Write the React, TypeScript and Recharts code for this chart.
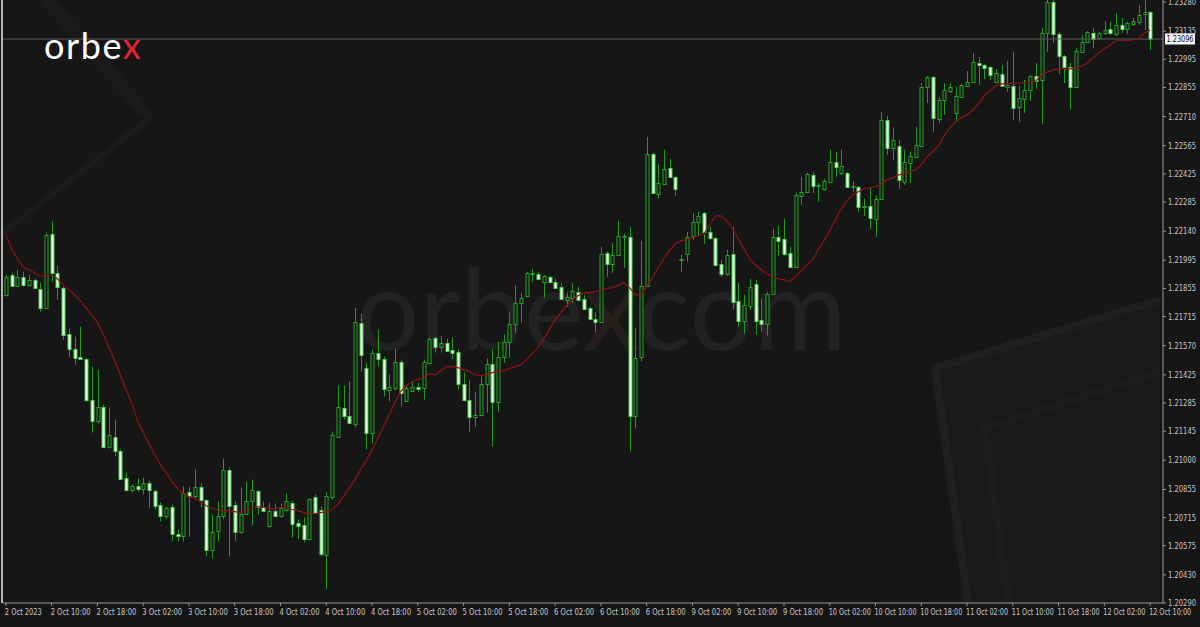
import { Bar, ComposedChart, Line, ReferenceLine, XAxis, YAxis } from "recharts";

// EURUSD-style H1 candles, 2 Oct 02:00 -> 12 Oct 10:00 (201 bars)
const opens = [
  1.21824, 1.21923, 1.21869, 1.21913, 1.21874, 1.21898, 1.21854, 1.21759, 1.22127, 1.21933,
  1.21859, 1.2163, 1.21555, 1.21516, 1.21506, 1.21302, 1.21193, 1.21267, 1.21068, 1.21118,
  1.21044, 1.20914, 1.2085, 1.2087, 1.20855, 1.20889, 1.20845, 1.2078, 1.20721, 1.2077,
  1.20631, 1.20621, 1.2084, 1.2082, 1.20865, 1.208, 1.20552, 1.20646, 1.20721, 1.20954,
  1.2078, 1.20641, 1.20735, 1.20795, 1.20845, 1.2077, 1.20671, 1.2075, 1.20721, 1.20755,
  1.2079, 1.20686, 1.20676, 1.20606, 1.20815, 1.20755, 1.20527, 1.20815, 1.21118, 1.21262,
  1.21222, 1.21183, 1.21685, 1.21461, 1.21138, 1.21536, 1.21506, 1.21352, 1.21362, 1.21491,
  1.21297, 1.21347, 1.21367, 1.21362, 1.21486, 1.2161, 1.21565, 1.21585, 1.21551, 1.21541,
  1.21382, 1.21302, 1.21213, 1.21227, 1.21382, 1.21481, 1.21292, 1.21516, 1.2159, 1.2168,
  1.21784, 1.21819, 1.21928, 1.21928, 1.21888, 1.21913, 1.21888, 1.21864, 1.21799, 1.21809,
  1.21839, 1.21804, 1.21759, 1.21705, 1.2169, 1.22033, 1.21978, 1.22023, 1.22112, 1.22112,
  1.21218, 1.21516, 1.21869, 1.22525, 1.22326, 1.22376, 1.22455, 1.2241, 1.21998, 1.22028,
  1.22117, 1.22187, 1.22231, 1.22137, 1.22107, 1.21978, 1.21928, 1.22028, 1.21794, 1.21695,
  1.21769, 1.21879, 1.217, 1.2168, 1.21829, 1.22112, 1.22102, 1.22033, 1.21963, 1.22316,
  1.22336, 1.2242, 1.22366, 1.22351, 1.22385, 1.22485, 1.2243, 1.2243, 1.22361, 1.22361,
  1.22261, 1.22266, 1.22202, 1.22301, 1.22694, 1.22554, 1.22564, 1.22385, 1.2248, 1.2251,
  1.22564, 1.22858, 1.22907, 1.22699, 1.22793, 1.22838, 1.22728, 1.22808, 1.22863, 1.22882,
  1.22977, 1.22967, 1.22957, 1.22882, 1.22922, 1.22858, 1.22863, 1.22758, 1.22798, 1.22843,
  1.22912, 1.22892, 1.23126, 1.2328, 1.23121, 1.23012, 1.22957, 1.22858, 1.23032, 1.23081,
  1.23126, 1.23101, 1.23126, 1.23146, 1.23121, 1.23166, 1.23146, 1.23171, 1.23181, 1.2322,
  1.2323,
];

const highs = [
  1.21923, 1.21933, 1.21948, 1.21938, 1.21923, 1.21903, 1.21883, 1.22132, 1.22187, 1.21968,
  1.21864, 1.21655, 1.21615, 1.21665, 1.21511, 1.21466, 1.21451, 1.21277, 1.21262, 1.21203,
  1.21054, 1.20939, 1.2088, 1.20909, 1.20914, 1.20899, 1.20855, 1.2079, 1.2077, 1.2078,
  1.20656, 1.2087, 1.2087, 1.20954, 1.20885, 1.20805, 1.2073, 1.20795, 1.21009, 1.20964,
  1.20795, 1.20865, 1.20894, 1.20904, 1.20855, 1.20795, 1.2079, 1.20785, 1.20785, 1.20835,
  1.208, 1.20706, 1.20716, 1.2081, 1.2083, 1.2077, 1.2084, 1.21143, 1.21372, 1.21372,
  1.21391, 1.21759, 1.21729, 1.21486, 1.21551, 1.2165, 1.21516, 1.21426, 1.21555, 1.21501,
  1.21372, 1.21391, 1.21386, 1.21501, 1.2161, 1.21615, 1.2162, 1.21605, 1.2161, 1.21551,
  1.21436, 1.21401, 1.21342, 1.21416, 1.21506, 1.21551, 1.2159, 1.21625, 1.21734, 1.21869,
  1.21834, 1.21938, 1.21953, 1.21938, 1.21923, 1.21918, 1.21903, 1.21883, 1.21834, 1.21883,
  1.21864, 1.21824, 1.21764, 1.21739, 1.22062, 1.22038, 1.22082, 1.22192, 1.22127, 1.22162,
  1.2166, 1.22092, 1.22609, 1.2253, 1.22475, 1.22545, 1.225, 1.22415, 1.22023, 1.22137,
  1.22231, 1.22236, 1.22236, 1.22162, 1.22112, 1.21998, 1.22048, 1.22162, 1.21883, 1.21824,
  1.21903, 1.21898, 1.21804, 1.21839, 1.22152, 1.22167, 1.22202, 1.22062, 1.22331, 1.2241,
  1.2243, 1.22435, 1.2238, 1.224, 1.22545, 1.22535, 1.22545, 1.22435, 1.2239, 1.22366,
  1.22301, 1.22356, 1.22316, 1.22733, 1.22713, 1.22654, 1.22594, 1.22545, 1.22535, 1.22659,
  1.22877, 1.22912, 1.22912, 1.22808, 1.22877, 1.22877, 1.22858, 1.22873, 1.22937, 1.23027,
  1.23007, 1.22972, 1.22962, 1.22947, 1.22967, 1.22987, 1.23032, 1.22863, 1.22892, 1.22917,
  1.22977, 1.23151, 1.233, 1.233, 1.23131, 1.23017, 1.22977, 1.23051, 1.23116, 1.23136,
  1.23151, 1.23131, 1.23186, 1.23181, 1.23225, 1.23201, 1.23181, 1.23201, 1.23265, 1.23295,
  1.23235,
];

const lows = [
  1.21814, 1.21864, 1.21864, 1.21864, 1.21864, 1.21854, 1.21739, 1.21754, 1.21888, 1.21799,
  1.216, 1.21511, 1.21476, 1.21501, 1.21292, 1.21138, 1.21183, 1.21063, 1.21058, 1.21019,
  1.20904, 1.20845, 1.2084, 1.20845, 1.2083, 1.20765, 1.20755, 1.20696, 1.20706, 1.20596,
  1.20596, 1.20596, 1.20621, 1.2081, 1.20765, 1.20522, 1.20512, 1.20596, 1.20706, 1.20522,
  1.20596, 1.20636, 1.2073, 1.20676, 1.2073, 1.20745, 1.20666, 1.20716, 1.20716, 1.2074,
  1.20616, 1.20606, 1.20591, 1.20601, 1.2073, 1.20522, 1.20358, 1.20805, 1.21113, 1.21203,
  1.21183, 1.21163, 1.21441, 1.21054, 1.21083, 1.21466, 1.21317, 1.21292, 1.21347, 1.21267,
  1.21292, 1.21342, 1.21342, 1.21302, 1.21481, 1.21536, 1.21536, 1.21541, 1.21501, 1.21352,
  1.21292, 1.21143, 1.21168, 1.21218, 1.21237, 1.21068, 1.21242, 1.21486, 1.21511, 1.21635,
  1.21685, 1.21814, 1.21888, 1.21898, 1.21809, 1.21883, 1.21854, 1.21799, 1.21764, 1.21784,
  1.21794, 1.21749, 1.217, 1.21635, 1.21685, 1.21913, 1.21933, 1.22018, 1.21958, 1.21044,
  1.21158, 1.21491, 1.21864, 1.22326, 1.22301, 1.22371, 1.22405, 1.22316, 1.21938, 1.21988,
  1.22097, 1.22117, 1.22077, 1.22097, 1.21963, 1.21913, 1.21918, 1.21749, 1.21665, 1.2163,
  1.21749, 1.21625, 1.2164, 1.2162, 1.21824, 1.22018, 1.22018, 1.21958, 1.21958, 1.22271,
  1.22331, 1.22331, 1.22286, 1.22341, 1.2238, 1.2241, 1.2242, 1.22356, 1.22336, 1.22236,
  1.22216, 1.22152, 1.22112, 1.22296, 1.2252, 1.22495, 1.22351, 1.22371, 1.2238, 1.22505,
  1.22559, 1.22778, 1.22634, 1.22679, 1.22718, 1.22828, 1.22684, 1.22803, 1.22858, 1.22877,
  1.22868, 1.22897, 1.22892, 1.22877, 1.22858, 1.22833, 1.22694, 1.22684, 1.22728, 1.22788,
  1.22848, 1.22674, 1.23032, 1.23076, 1.22922, 1.22877, 1.22743, 1.22853, 1.23027, 1.23076,
  1.23051, 1.23091, 1.23116, 1.23116, 1.23111, 1.23126, 1.23121, 1.23161, 1.23166, 1.23141,
  1.23042,
];

const closes = [
  1.21913, 1.21869, 1.21913, 1.21874, 1.21898, 1.21859, 1.21759, 1.22122, 1.21933, 1.21864,
  1.21625, 1.21555, 1.21511, 1.21506, 1.21302, 1.21193, 1.21267, 1.21068, 1.21128, 1.21044,
  1.20909, 1.2085, 1.2087, 1.20855, 1.20885, 1.2085, 1.20775, 1.20721, 1.20765, 1.20631,
  1.20621, 1.20835, 1.2082, 1.20865, 1.208, 1.20552, 1.20641, 1.20725, 1.20954, 1.20775,
  1.20641, 1.20735, 1.20795, 1.2085, 1.2077, 1.2075, 1.2075, 1.20721, 1.20765, 1.20795,
  1.20681, 1.20671, 1.20606, 1.20805, 1.2074, 1.20532, 1.2082, 1.21128, 1.21267, 1.21218,
  1.21188, 1.2169, 1.21526, 1.21138, 1.21536, 1.21506, 1.21357, 1.21367, 1.21491, 1.21337,
  1.21362, 1.21367, 1.21357, 1.21491, 1.21605, 1.21565, 1.21585, 1.21546, 1.21536, 1.21382,
  1.21302, 1.21213, 1.21227, 1.21382, 1.21481, 1.21292, 1.21516, 1.2159, 1.2168, 1.21784,
  1.21809, 1.21933, 1.21933, 1.21903, 1.21918, 1.21888, 1.21859, 1.21804, 1.21814, 1.21844,
  1.21799, 1.21754, 1.21705, 1.2169, 1.22028, 1.21978, 1.22023, 1.22117, 1.22117, 1.21218,
  1.21511, 1.21869, 1.22525, 1.22331, 1.2238, 1.2245, 1.2241, 1.22351, 1.22003, 1.22112,
  1.22187, 1.22216, 1.22137, 1.22107, 1.21973, 1.21928, 1.22023, 1.21789, 1.21695, 1.21774,
  1.21864, 1.21695, 1.2168, 1.21829, 1.22112, 1.22092, 1.22028, 1.21963, 1.22321, 1.22336,
  1.22425, 1.22366, 1.22371, 1.2239, 1.22485, 1.2246, 1.22465, 1.22361, 1.22366, 1.22261,
  1.22266, 1.22207, 1.22301, 1.22694, 1.22554, 1.22594, 1.22395, 1.22485, 1.22515, 1.22569,
  1.22858, 1.22907, 1.22704, 1.22793, 1.22843, 1.22858, 1.22813, 1.22868, 1.22882, 1.22982,
  1.22967, 1.22952, 1.22917, 1.22927, 1.22863, 1.22868, 1.22753, 1.22803, 1.22843, 1.22912,
  1.22887, 1.23126, 1.2328, 1.23121, 1.23012, 1.22957, 1.22858, 1.23037, 1.23081, 1.23131,
  1.23096, 1.23126, 1.23141, 1.23126, 1.23166, 1.23146, 1.23176, 1.23186, 1.23215, 1.2323,
  1.23096,
];

// moving average (red line)
const maValues = [
  1.22122, 1.22052, 1.22003, 1.21963, 1.21948, 1.21933, 1.21918, 1.21918, 1.21923, 1.21903,
  1.21874, 1.21849, 1.21824, 1.21794, 1.21759, 1.21724, 1.21685, 1.2163, 1.2156, 1.21496,
  1.21426, 1.21352, 1.21282, 1.21198, 1.21138, 1.21083, 1.21029, 1.20979, 1.20939, 1.20894,
  1.2086, 1.20835, 1.2082, 1.2081, 1.20795, 1.20775, 1.2076, 1.20755, 1.2075, 1.2075,
  1.20745, 1.2074, 1.2075, 1.2076, 1.2077, 1.20765, 1.2076, 1.2076, 1.20765, 1.20765,
  1.20755, 1.2075, 1.2074, 1.20735, 1.20735, 1.2074, 1.20745, 1.20755, 1.2078, 1.2082,
  1.2086, 1.20904, 1.20954, 1.20999, 1.21054, 1.21108, 1.21168, 1.21227, 1.21287, 1.21342,
  1.21372, 1.21391, 1.21401, 1.21411, 1.21431, 1.21426, 1.21446, 1.21466, 1.21466, 1.21461,
  1.21451, 1.21441, 1.21426, 1.21421, 1.21426, 1.21436, 1.21441, 1.21446, 1.21456, 1.21466,
  1.21476, 1.21501, 1.21531, 1.2156, 1.21605, 1.2165, 1.217, 1.21734, 1.21769, 1.21799,
  1.21819, 1.21834, 1.21834, 1.21839, 1.21849, 1.21854, 1.21859, 1.21869, 1.21883, 1.21859,
  1.21824, 1.21824, 1.21864, 1.21908, 1.21958, 1.22003, 1.22043, 1.22077, 1.22092, 1.22097,
  1.22107, 1.22117, 1.22127, 1.22172, 1.22216, 1.22216, 1.22192, 1.22152, 1.22102, 1.22052,
  1.22003, 1.21973, 1.21948, 1.21928, 1.21913, 1.21903, 1.21898, 1.21888, 1.21913, 1.21943,
  1.21973, 1.21998, 1.22048, 1.22092, 1.22142, 1.22197, 1.22251, 1.22291, 1.22321, 1.22336,
  1.22351, 1.22356, 1.22361, 1.22376, 1.22395, 1.22405, 1.2242, 1.22425, 1.22435, 1.22445,
  1.2247, 1.2251, 1.22535, 1.22564, 1.22614, 1.22654, 1.22684, 1.22704, 1.22718, 1.22743,
  1.22773, 1.22813, 1.22838, 1.22863, 1.22873, 1.22873, 1.22877, 1.22877, 1.22877, 1.22877,
  1.22887, 1.22917, 1.22932, 1.22942, 1.22947, 1.22947, 1.22947, 1.22952, 1.22962, 1.22977,
  1.23002, 1.23027, 1.23046, 1.23066, 1.23086, 1.23091, 1.23086, 1.23091, 1.23101, 1.23126,
  1.23141,
];

// one label every 8 bars
const timeLabels = [
  "2 Oct 2023", "2 Oct 10:00", "2 Oct 18:00", "3 Oct 02:00", "3 Oct 10:00", "3 Oct 18:00",
  "4 Oct 02:00", "4 Oct 10:00", "4 Oct 18:00", "5 Oct 02:00", "5 Oct 10:00", "5 Oct 18:00",
  "6 Oct 02:00", "6 Oct 10:00", "6 Oct 18:00", "9 Oct 02:00", "9 Oct 10:00", "9 Oct 18:00",
  "10 Oct 02:00", "10 Oct 10:00", "10 Oct 18:00", "11 Oct 02:00", "11 Oct 10:00",
  "11 Oct 18:00", "12 Oct 02:00", "12 Oct 10:00",
];

const priceTicks = [
  1.2328, 1.23135, 1.22995, 1.22855, 1.2271, 1.22565, 1.22425, 1.22285, 1.2214, 1.21995, 1.21855,
  1.21715, 1.2157, 1.21425, 1.21285, 1.21145, 1.21, 1.20855, 1.20715, 1.20575, 1.2043, 1.2029,
];

const lastPrice = 1.23096;

const data = opens.map((open, i) => ({
  i,
  open,
  high: highs[i],
  low: lows[i],
  close: closes[i],
  ma: maValues[i],
}));

const FONT = "'DejaVu Sans Condensed', 'Liberation Sans', sans-serif";
const AXIS_TEXT = "#c8c8c8";

function Candle(props: any) {
  const { x, y, width, height, payload } = props;
  if (!payload) return null;
  const { open, close, high, low } = payload;
  const span = high - low || 1e-9;
  const toY = (v: number) => y + ((high - v) / span) * height;
  const cx = Math.round(x + width / 2) + 0.5;
  const bull = close >= open;
  const top = Math.round(toY(Math.max(open, close)));
  const bot = Math.max(Math.round(toY(Math.min(open, close))), top + 1);
  return (
    <g>
      <line x1={cx} x2={cx} y1={y} y2={y + height} stroke="#1f9b1f" strokeWidth={1} />
      <rect
        x={cx - 1.5}
        y={top + 0.5}
        width={3}
        height={bot - top}
        fill={bull ? "#161616" : "#effff0"}
        stroke={bull ? "#22a322" : "#46d046"}
        strokeWidth={1}
      />
    </g>
  );
}

function TimeTick(props: any) {
  const { x, y, payload } = props;
  const label = timeLabels[payload.value / 8];
  // squeeze the labels so they stay inside their 8-bar slot
  const len = label.length >= 12 ? 42 : label.length === 11 ? 40 : 37;
  return (
    <text
      x={x - 1}
      y={y + 7}
      fill={AXIS_TEXT}
      fontSize={8.5}
      fontFamily={FONT}
      textAnchor="start"
      textLength={len}
      lengthAdjust="spacingAndGlyphs"
    >
      {label}
    </text>
  );
}

function PriceTick(props: any) {
  const { x, y, payload } = props;
  return (
    <text
      x={x + 1}
      y={y + 3}
      fill={AXIS_TEXT}
      fontSize={8.5}
      fontFamily={FONT}
      textLength={28}
      lengthAdjust="spacingAndGlyphs"
    >
      {payload.value.toFixed(5)}
    </text>
  );
}

function PriceTag(props: any) {
  const { viewBox } = props;
  const y = viewBox.y;
  return (
    <g>
      <rect x={1165} y={y - 5.5} width={30} height={11} fill="#f4f4f4" />
      <text
        x={1166.5}
        y={y + 3.3}
        fontSize={8.5}
        fontFamily={FONT}
        fill="#111"
        textLength={27}
        lengthAdjust="spacingAndGlyphs"
      >
        {lastPrice.toFixed(5)}
      </text>
    </g>
  );
}

export default function App() {
  return (
    <div
      style={{
        position: "absolute",
        left: 0,
        top: 0,
        width: 1200,
        height: 627,
        background: "#161616",
        overflow: "hidden",
      }}
    >
      {/* background artwork + watermark */}
      <svg width={1200} height={627} style={{ position: "absolute", left: 0, top: 0 }}>
        <polygon points="38,0 56,0 156,116 140,116" fill="#1a1a1a" />
        <line x1={150} y1={118} x2={0} y2={235} stroke="#1b1b1b" strokeWidth={6} />
        <polygon points="935,368 1160,300 1160,603 968,603" fill="#191919" />
        <polyline points="968,603 935,368 1160,300" fill="none" stroke="#1f1f1f" strokeWidth={8} />
        <polyline points="1008,603 985,428 1160,372" fill="none" stroke="#1c1c1c" strokeWidth={8} />
        <text
          x={601}
          y={350}
          textAnchor="middle"
          fontSize={113}
          fontFamily="Lato, 'Open Sans', sans-serif"
          fontWeight={400}
          fill="#222222"
        >
          orbe<tspan fill="#261d1d">x</tspan>com
        </text>
      </svg>

      <div style={{ position: "absolute", left: 0, top: 0 }}>
        <ComposedChart
          width={1200}
          height={627}
          data={data}
          margin={{ top: 0, right: 0, left: 3, bottom: 0 }}
        >
          <XAxis
            dataKey="i"
            type="category"
            ticks={timeLabels.map((_, k) => k * 8)}
            interval={0}
            height={24}
            padding={{ left: 0, right: 10 }}
            tick={<TimeTick />}
            tickSize={3}
            tickLine={{ stroke: "#9a9a9a" }}
            axisLine={{ stroke: "#9a9a9a" }}
          />
          <YAxis
            orientation="right"
            domain={[1.2029, 1.2329]}
            allowDataOverflow
            ticks={priceTicks}
            interval={0}
            width={37}
            tick={<PriceTick />}
            tickSize={3}
            tickMargin={1}
            tickLine={{ stroke: "#9a9a9a" }}
            axisLine={{ stroke: "#9a9a9a" }}
          />
          <ReferenceLine
            y={lastPrice}
            stroke="#5a5d63"
            strokeWidth={1}
            ifOverflow="extendDomain"
            label={<PriceTag />}
          />
          <Bar
            dataKey={(d: any) => [d.low, d.high]}
            barSize={4}
            shape={<Candle />}
            isAnimationActive={false}
          />
          <Line
            dataKey="ma"
            type="linear"
            stroke="#8e1414"
            strokeWidth={1.2}
            dot={false}
            activeDot={false}
            isAnimationActive={false}
          />
        </ComposedChart>
      </div>

      <div
        style={{ position: "absolute", left: 1, top: 0, width: 2, height: 603, background: "#b5b5b5" }}
      />
      <div
        style={{
          position: "absolute",
          left: 44,
          top: 25,
          fontFamily: "Lato, 'Open Sans', sans-serif",
          fontWeight: 400,
          fontSize: 36,
          letterSpacing: 1.6,
          color: "#ffffff",
          lineHeight: "40px",
        }}
      >
        orbe<span style={{ color: "#e3262f" }}>x</span>
      </div>
    </div>
  );
}
